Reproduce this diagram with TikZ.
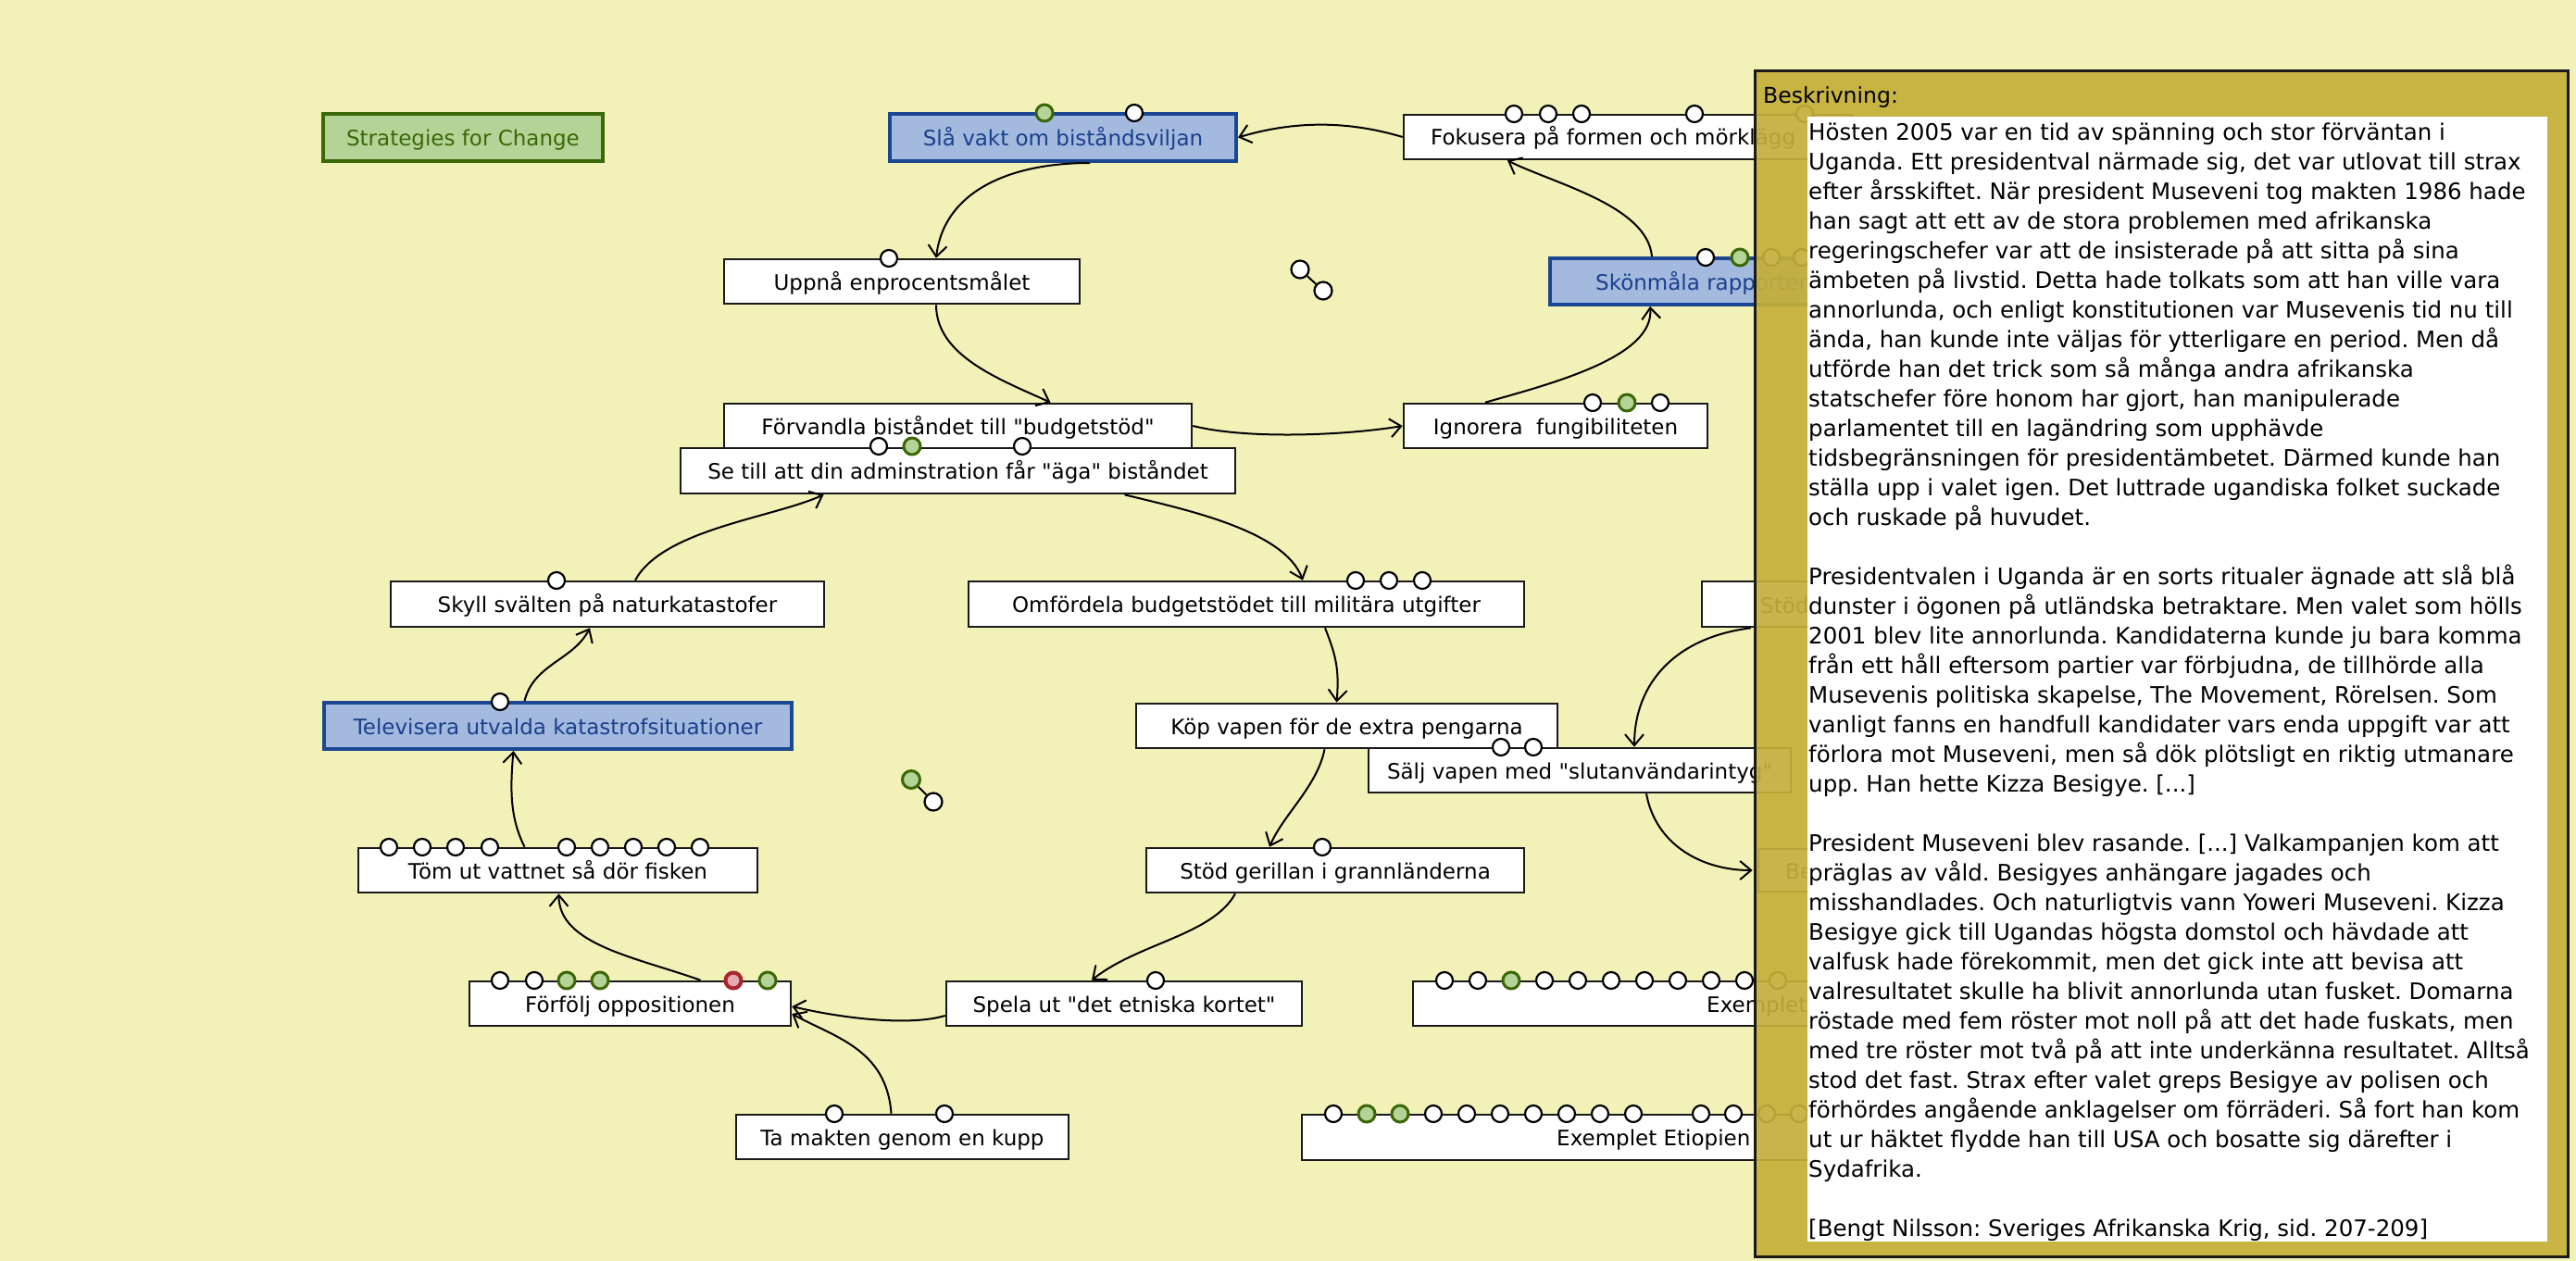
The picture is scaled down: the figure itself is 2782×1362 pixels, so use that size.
\documentclass[tikz,border=0pt]{standalone}
\usepackage{fontspec}
\setmainfont{DejaVu Sans}[Ligatures=TeXOff]
\usetikzlibrary{arrows.meta}
\definecolor{bg}{RGB}{242,241,183}
\definecolor{gold}{RGB}{196,175,58}
\definecolor{bluefill}{RGB}{163,185,222}
\definecolor{blueline}{RGB}{26,70,146}
\definecolor{bluetext}{RGB}{26,64,140}
\definecolor{greenfill}{RGB}{180,211,150}
\definecolor{greenline}{RGB}{58,104,6}
\definecolor{redline}{RGB}{168,38,44}
\definecolor{redfill}{RGB}{226,170,176}
\newcommand\dotW[2]{\draw[black,fill=white,line width=2.2pt] (#1,#2) circle[radius=9pt];}
\newcommand\dotG[2]{\draw[greenline,fill=greenfill,line width=3pt] (#1,#2) circle[radius=9pt];}
\newcommand\dotR[2]{\draw[redline,fill=redfill,line width=4pt] (#1,#2) circle[radius=8.5pt];}
\frenchspacing
\begin{document}
\begin{tikzpicture}[x=1pt,y=-1pt,
  box/.style={draw=black!90, line width=2.6pt, fill=white, inner sep=0pt,
    minimum height=48pt, text height=18pt, text depth=0pt,
    font=\fontsize{23}{27}\selectfont},
  bluebox/.style={box, draw=blueline, fill=bluefill, line width=4pt, text=bluetext},
  greenbox/.style={box, draw=greenline, fill=greenfill, line width=4pt, text=greenline},
  lbl/.style={inner sep=0pt, anchor=base west, font=\fontsize{23}{27}\selectfont},
  conn/.style={line width=2pt, -{Straight Barb[length=12pt,width=20pt]}},
  dotnode/.style={circle, draw=black, fill=white, line width=2.2pt, minimum size=19pt, inner sep=0pt}]
\fill[bg] (0,0) rectangle (2782,1362);
\useasboundingbox (0,0) rectangle (2782,1362);

% boxes
\node[greenbox, minimum width=302pt, minimum height=51pt] (strat) at (500,148.5) {Strategies for Change};
\node[bluebox, minimum width=374pt, minimum height=51pt] (sla) at (1148,148.5) {Slå vakt om biståndsviljan};
\node[box, minimum width=384pt] (upp) at (974,304) {Uppnå enprocentsmålet};
\node[box, minimum width=505pt] (forv) at (1034.5,460) {Förvandla biståndet till "budgetstöd"};
\node[box, minimum width=599pt, minimum height=49pt] (setill) at (1034.5,508.5) {Se till att din adminstration får "äga" biståndet};
\node[box, minimum width=328pt] (ign) at (1680,460) {Ignorera\ \ fungibiliteten};
\node[box, minimum width=484pt] (fok) at (1758,148) {};
\node[lbl] (fokT) at (1545,157) {Fokusera på formen och mörklägg};
\node[bluebox, minimum width=326pt, minimum height=50pt] (skon) at (1837,304) {};
\node[lbl, text=bluetext] (skonT) at (1723,313) {Skönmåla rapporter};
\node[box, minimum width=468pt, minimum height=49pt] (skyll) at (656,652.5) {Skyll svälten på naturkatastofer};
\node[box, minimum width=600pt, minimum height=49pt] (omf) at (1346,652.5) {Omfördela budgetstödet till militära utgifter};
\node[box, minimum width=300pt, minimum height=49pt] (stodR) at (1988,652.5) {};
\node[lbl] (stodRT) at (1901,662) {Stöd};
\node[bluebox, minimum width=505pt, minimum height=50pt] (tele) at (602.5,784) {Televisera utvalda katastrofsituationer};
\node[box, minimum width=455pt] (kop) at (1454.5,784) {Köp vapen för de extra pengarna};
\node[box, minimum width=456pt] (salj) at (1706,832) {Sälj vapen med "slutanvändarintyg"};
\node[box, minimum width=300pt, minimum height=46pt] (beR) at (2049,940) {};
\node[lbl] (beRT) at (1928,949) {Be};
\node[box, minimum width=431pt] (tom) at (602.5,940) {Töm ut vattnet så dör fisken};
\node[box, minimum width=408pt] (stod) at (1442,940) {Stöd gerillan i grannländerna};
\node[box, minimum width=347pt] (forf) at (680.5,1084) {Förfölj oppositionen};
\node[box, minimum width=384pt] (spela) at (1214,1084) {Spela ut "det etniska kortet"};
\node[box, minimum width=359pt] (kupp) at (974.5,1228) {Ta makten genom en kupp};
\node[box, minimum width=574pt] (ex1) at (1813,1084) {};
\node[lbl] (ex1T) at (1843,1093) {Exemplet};
\node[box, minimum width=694pt, minimum height=49pt] (ex2) at (1753,1228.5) {};
\node[lbl] (ex2T) at (1681,1237) {Exemplet Etiopien};

% connectors
\draw[conn] (fok.west) .. controls +(-60,-18) and +(60,-18) .. (sla.east);
\draw[conn] ([xshift=29pt]sla.south) .. controls +(-90,0) and +(8,-70) .. ([xshift=37pt]upp.north);
\draw[conn] ([xshift=37pt]upp.south) .. controls +(0,55) and +(-55,-25) .. ([xshift=100pt]forv.north);
\draw[conn] (forv.east) .. controls +(60,15) and +(-60,10) .. (ign.west);
\draw[conn] ([xshift=-76pt]ign.north) .. controls +(70,-20) and +(5,55) .. ([xshift=-55pt]skon.south);
\draw[conn] ([xshift=-53pt]skon.north) .. controls +(-5,-55) and +(50,25) .. ([xshift=-130pt]fok.south);
\draw[conn] ([xshift=30pt]skyll.north) .. controls +(30,-55) and +(-55,25) .. ([xshift=-145pt]setill.south);
\draw[conn] ([xshift=180pt]setill.south) .. controls +(60,15) and +(-20,-55) .. ([xshift=61pt]omf.north);
\draw[conn] ([xshift=-36pt]tele.north) .. controls +(10,-40) and +(-18,35) .. ([xshift=-19pt]skyll.south);
\draw[conn] ([xshift=85pt]omf.south) .. controls +(12,30) and +(3,-35) .. ([xshift=-11pt]kop.north);
\draw[conn] ([xshift=-24pt]kop.south) .. controls +(-8,40) and +(15,-35) .. ([xshift=-71pt]stod.north);
\draw[conn] ([xshift=-108pt]stod.south) .. controls +(-25,45) and +(50,-40) .. ([xshift=-35pt]spela.north);
\draw[conn] ([yshift=-13pt]spela.west) .. controls +(-40,12) and +(50,12) .. ([yshift=-3pt]forf.east);
\draw[conn] ([xshift=-12pt]kupp.north) .. controls +(-5,-70) and +(45,25) .. ([yshift=-11pt]forf.east);
\draw[conn] ([xshift=76pt]forf.north) .. controls +(-70,-25) and +(0,55) .. ([xshift=1pt]tom.south);
\draw[conn] ([xshift=-36pt]tom.north) .. controls +(-15,-30) and +(-4,45) .. ([xshift=-48pt]tele.south);
\draw[conn] ([xshift=54pt]stodR.south west) .. controls +(-80,10) and +(0,-70) .. ([xshift=59pt]salj.north);
\draw[conn] ([xshift=72pt]salj.south) .. controls +(10,55) and +(-55,0) .. ([xshift=-5pt]beR.west);

% stray pairs
\node[dotnode] (s1a) at (1404,291) {};
\node[dotnode] (s1b) at (1429,314) {};
\draw[line width=2pt] (s1a) -- (s1b);
\node[dotnode, draw=greenline, fill=greenfill, line width=3pt] (s2a) at (984,842) {};
\node[dotnode] (s2b) at (1008,866) {};
\draw[line width=2pt] (s2a) -- (s2b);

% port circles
\dotG{1128}{122} \dotW{1225}{122}
\dotW{960}{279}
\dotW{949}{482} \dotG{985}{482} \dotW{1104}{482}
\dotW{1720}{435} \dotG{1757}{435} \dotW{1793}{435}
\dotW{1635}{123} \dotW{1672}{123} \dotW{1708}{123} \dotW{1830}{123} \dotW{1949}{123}
\dotW{1842}{278} \dotG{1879}{278} \dotW{1913}{278} \dotW{1946}{278}
\dotW{601}{627}
\dotW{1464}{627} \dotW{1500}{627} \dotW{1536}{627}
\dotW{540}{758}
\dotW{1621}{807} \dotW{1656}{807}
\foreach \x in {420,456,492,529,612,648,684,720,756} {\dotW{\x}{915}}
\dotW{1428}{915}
\dotW{540}{1059} \dotW{577}{1059} \dotG{612}{1059} \dotG{648}{1059} \dotR{792}{1059} \dotG{829}{1059}
\dotW{1248}{1059}
\dotW{901}{1203} \dotW{1020}{1203}
\foreach \x in {1560,1596,1668,1704,1740,1776,1812,1848,1884,1920} {\dotW{\x}{1059}}
\dotG{1632}{1059}
\foreach \x in {1440,1548,1584,1620,1656,1692,1728,1764,1837,1872,1908,1943} {\dotW{\x}{1203}}
\dotG{1476}{1203} \dotG{1512}{1203}

% description panel
\fill[gold, fill opacity=0.92] (1895,77) rectangle (2773,1357);
\draw[black!90, line width=3pt] (1895,77) rectangle (2773,1357);
\fill[white] (1952,126) rectangle (2751,1341);
\node[inner sep=0pt, anchor=base west, font=\fontsize{23.5}{28}\selectfont] (beskT) at (1904,112) {Beskrivning:};
\node[inner sep=0pt, anchor=base west] (descT) at (1953,152) {\parbox[t]{800pt}{\fontsize{24.5}{32}\selectfont\raggedright
Hösten 2005 var en tid av spänning och stor förväntan i\\
Uganda. Ett presidentval närmade sig, det var utlovat till strax\\
efter årsskiftet. När president Museveni tog makten 1986 hade\\
han sagt att ett av de stora problemen med afrikanska\\
regeringschefer var att de insisterade på att sitta på sina\\
ämbeten på livstid. Detta hade tolkats som att han ville vara\\
annorlunda, och enligt konstitutionen var Musevenis tid nu till\\
ända, han kunde inte väljas för ytterligare en period. Men då\\
utförde han det trick som så många andra afrikanska\\
statschefer före honom har gjort, han manipulerade\\
parlamentet till en lagändring som upphävde\\
tidsbegränsningen för presidentämbetet. Därmed kunde han\\
ställa upp i valet igen. Det luttrade ugandiska folket suckade\\
och ruskade på huvudet.\\[32pt]
Presidentvalen i Uganda är en sorts ritualer ägnade att slå blå\\
dunster i ögonen på utländska betraktare. Men valet som hölls\\
2001 blev lite annorlunda. Kandidaterna kunde ju bara komma\\
från ett håll eftersom partier var förbjudna, de tillhörde alla\\
Musevenis politiska skapelse, The Movement, Rörelsen. Som\\
vanligt fanns en handfull kandidater vars enda uppgift var att\\
förlora mot Museveni, men så dök plötsligt en riktig utmanare\\
upp. Han hette Kizza Besigye. {[}...{]}\\[32pt]
President Museveni blev rasande. {[}...{]} Valkampanjen kom att\\
präglas av våld. Besigyes anhängare jagades och\\
misshandlades. Och naturligtvis vann Yoweri Museveni. Kizza\\
Besigye gick till Ugandas högsta domstol och hävdade att\\
valfusk hade förekommit, men det gick inte att bevisa att\\
valresultatet skulle ha blivit annorlunda utan fusket. Domarna\\
röstade med fem röster mot noll på att det hade fuskats, men\\
med tre röster mot två på att inte underkänna resultatet. Alltså\\
stod det fast. Strax efter valet greps Besigye av polisen och\\
förhördes angående anklagelser om förräderi. Så fort han kom\\
ut ur häktet flydde han till USA och bosatte sig därefter i\\
Sydafrika.\\[32pt]
{[}Bengt Nilsson: Sveriges Afrikanska Krig, sid. 207-209{]}}};
\end{tikzpicture}
\end{document}
